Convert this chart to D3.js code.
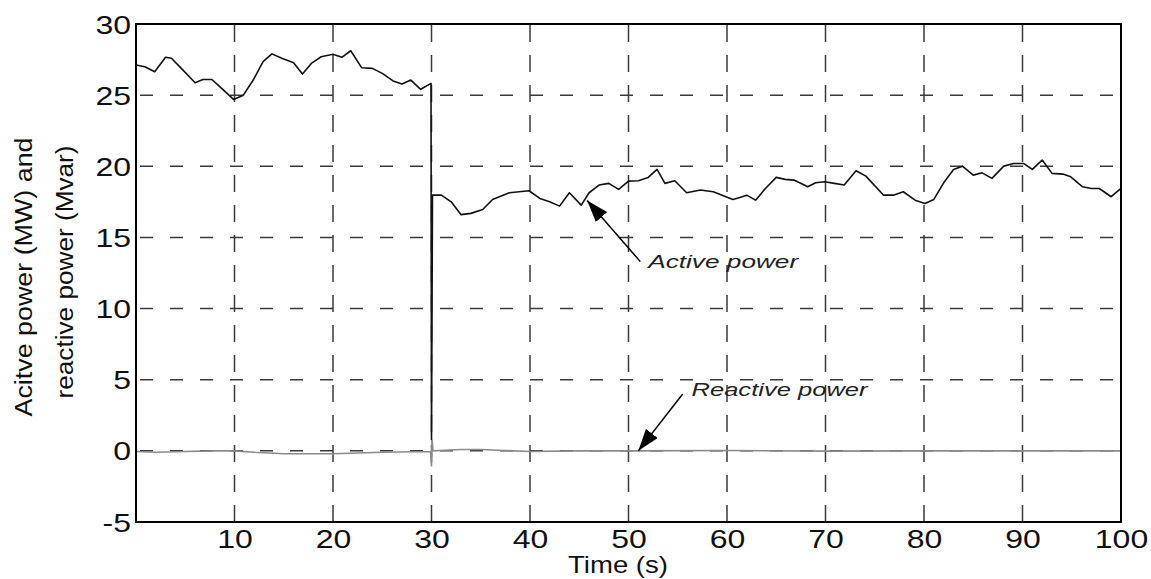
<!DOCTYPE html>
<html>
<head>
<meta charset="utf-8">
<script src="https://cdn.jsdelivr.net/npm/d3@7"></script>
<style>
  html, body { margin: 0; padding: 0; background: #fff; }
  svg { display: block; font-family: "Liberation Sans", Arial, sans-serif; }
</style>
</head>
<body>
<svg id="chart" width="1151" height="579"></svg>
<script>
// active power (MW)
const activeTime = [
  0, 0.9, 1.9, 3.0, 3.6, 4.6, 6.0, 6.8, 7.7, 8.7,
  9.9, 10.9, 11.9, 12.9, 13.8, 14.8, 16.0, 16.9, 17.8, 18.8,
  20.0, 20.9, 21.8, 22.9, 24.0, 25.0, 26.1, 27.0, 27.9, 28.9,
  29.95, 30.0, 30.1, 31.0, 32.0, 33.0, 34.0, 35.2, 36.2, 37.9,
  39.9, 41.0, 42.0, 43.0, 44.0, 45.2, 46.0, 47.0, 48.0, 49.0,
  50.0, 51.0, 52.0, 52.9, 53.7, 54.7, 55.9, 57.3, 58.6, 60.6,
  61.3, 62.0, 62.9, 63.9, 65.0, 65.9, 66.8, 68.2, 69.0, 69.9,
  70.9, 71.9, 73.1, 74.1, 75.9, 76.9, 77.9, 79.1, 80.1, 81.0,
  82.0, 83.0, 83.9, 85.0, 85.9, 86.9, 88.1, 89.1, 90.1, 91.0,
  92.0, 93.0, 94.1, 94.9, 96.1, 97.0, 97.8, 99.0, 100
];
const activePower = [
  27.12, 27.0, 26.65, 27.66, 27.59, 26.88, 25.87, 26.1, 26.1, 25.48,
  24.7, 25.0, 26.06, 27.35, 27.9, 27.59, 27.28, 26.48, 27.23, 27.7,
  27.87, 27.66, 28.12, 26.93, 26.88, 26.53, 26.0, 25.78, 26.06, 25.41,
  25.83, 0.8, 17.97, 17.97, 17.5, 16.6, 16.69, 16.96, 17.67, 18.14,
  18.28, 17.74, 17.5, 17.2, 18.14, 17.27, 18.14, 18.68, 18.8, 18.38,
  18.96, 18.98, 19.22, 19.78, 18.8, 18.98, 18.14, 18.33, 18.21, 17.67,
  17.81, 17.97, 17.62, 18.44, 19.22, 19.08, 19.03, 18.56, 18.84, 18.91,
  18.8, 18.68, 19.69, 19.31, 17.97, 17.97, 18.21, 17.62, 17.39, 17.67,
  18.84, 19.78, 20.01, 19.38, 19.54, 19.15, 20.01, 20.2, 20.2, 19.78,
  20.44, 19.5, 19.45, 19.26, 18.56, 18.44, 18.44, 17.86, 18.44
];

// reactive power (Mvar)
const reactiveTime = [0, 2, 5, 8, 10, 12, 15, 20, 25, 29.9, 30.0, 30.05, 30.15,
  33, 35, 40, 45, 50, 60, 70, 80, 90, 100];
const reactivePower = [-0.05, -0.1, -0.05, 0, 0, -0.1, -0.2, -0.2, -0.1, -0.05, -1.1, 0.8, 0,
  0.1, 0.1, -0.05, 0, 0, 0.02, -0.02, 0, 0, 0];

const xTicks = [10, 20, 30, 40, 50, 60, 70, 80, 90, 100];
const yTicks = [-5, 0, 5, 10, 15, 20, 25, 30];

// annotations: [label, text x, text y, arrow tail x, tail y, tip x, tip y] in data units
const notes = [
  ["Active power", 52.0, 12.84, 51.2, 13.3, 45.8, 17.6],
  ["Reactive power", 56.4, 3.84, 55.5, 4.0, 51.0, 0.0]
];
const noteWidths = [150, 176];

const svg = d3.select("#chart");
const plotLeft = 136, plotRight = 1121, plotTop = 24, plotBottom = 522;

const x = d3.scaleLinear().domain([0, 100]).range([plotLeft, plotRight]);
const y = d3.scaleLinear().domain([-5, 30]).range([plotBottom, plotTop]);

// stretch text horizontally a bit, the figure is wider than tall
const stretch = (sel, k) => {
  sel.each(function () {
    const w = this.getComputedTextLength();
    d3.select(this).attr("textLength", w * k).attr("lengthAdjust", "spacingAndGlyphs");
  });
};

// grid
svg.append("g")
  .selectAll("line")
  .data(yTicks.filter((d) => d > -5 && d < 30))
  .enter()
  .append("line")
  .attr("x1", plotLeft)
  .attr("x2", plotRight)
  .attr("y1", (d) => y(d))
  .attr("y2", (d) => y(d))
  .style("stroke", "#3a3a3a")
  .style("stroke-width", 1.5)
  .style("stroke-dasharray", "13,17")
  .style("stroke-dashoffset", -4);

svg.append("g")
  .selectAll("line")
  .data(xTicks.filter((d) => d < 100))
  .enter()
  .append("line")
  .attr("x1", (d) => x(d))
  .attr("x2", (d) => x(d))
  .attr("y1", plotBottom)
  .attr("y2", plotTop)
  .style("stroke", "#3a3a3a")
  .style("stroke-width", 1.5)
  .style("stroke-dasharray", "17,13");

// series
const reactiveLine = d3.line().x((d, i) => x(reactiveTime[i])).y((d) => y(d));
svg.append("path")
  .datum(reactivePower)
  .attr("d", reactiveLine)
  .style("fill", "none")
  .style("stroke", "#8a8a8a")
  .style("stroke-width", 1.6);

const activeLine = d3.line().x((d, i) => x(activeTime[i])).y((d) => y(d));
svg.append("path")
  .datum(activePower)
  .attr("d", activeLine)
  .style("fill", "none")
  .style("stroke", "#111")
  .style("stroke-width", 1.6)
  .style("stroke-linejoin", "round");

// axes box
svg.append("rect")
  .attr("x", plotLeft)
  .attr("y", plotTop)
  .attr("width", plotRight - plotLeft)
  .attr("height", plotBottom - plotTop)
  .style("fill", "none")
  .style("stroke", "#000")
  .style("stroke-width", 2);

const xAxis = svg.append("g")
  .attr("transform", `translate(0,${plotBottom})`)
  .call(d3.axisBottom(x).tickValues(xTicks).tickSize(0).tickFormat((d) => String(d)));
xAxis.select(".domain").remove();
xAxis.selectAll("text")
  .attr("y", 26)
  .attr("dy", 0)
  .style("font-size", "25px")
  .style("fill", "#111")
  .call(stretch, 1.28);

const yAxis = svg.append("g")
  .attr("transform", `translate(${plotLeft},0)`)
  .call(d3.axisLeft(y).tickValues(yTicks).tickSize(0).tickFormat((d) => String(d)));
yAxis.select(".domain").remove();
yAxis.selectAll("text")
  .attr("x", -5)
  .attr("dy", "0.36em")
  .style("font-size", "25px")
  .style("fill", "#111")
  .call(stretch, 1.28);

// axis titles
svg.append("text")
  .attr("x", 618)
  .attr("y", 573)
  .attr("text-anchor", "middle")
  .style("font-size", "24px")
  .style("fill", "#111")
  .attr("textLength", 100)
  .attr("lengthAdjust", "spacingAndGlyphs")
  .text("Time (s)");

svg.append("text")
  .attr("transform", "translate(32,277) rotate(-90)")
  .attr("text-anchor", "middle")
  .style("font-size", "23px")
  .style("fill", "#111")
  .attr("textLength", 279)
  .attr("lengthAdjust", "spacingAndGlyphs")
  .text("Acitve power (MW) and");

svg.append("text")
  .attr("transform", "translate(73,272) rotate(-90)")
  .attr("text-anchor", "middle")
  .style("font-size", "23px")
  .style("fill", "#111")
  .attr("textLength", 253)
  .attr("lengthAdjust", "spacingAndGlyphs")
  .text("reactive power (Mvar)");

// annotations
svg.append("defs")
  .append("marker")
  .attr("id", "head")
  .attr("viewBox", "0 0 10 10")
  .attr("refX", 10)
  .attr("refY", 5)
  .attr("markerWidth", 22)
  .attr("markerHeight", 15)
  .attr("markerUnits", "userSpaceOnUse")
  .attr("orient", "auto")
  .attr("preserveAspectRatio", "none")
  .append("path")
  .attr("d", "M0,0L10,5L0,10Z")
  .style("fill", "#000");

notes.forEach((n, i) => {
  svg.append("line")
    .attr("x1", x(n[3]))
    .attr("y1", y(n[4]))
    .attr("x2", x(n[5]))
    .attr("y2", y(n[6]))
    .style("stroke", "#000")
    .style("stroke-width", 1.5)
    .attr("marker-end", "url(#head)");

  svg.append("text")
    .attr("x", x(n[1]))
    .attr("y", y(n[2]))
    .style("font-size", "19px")
    .style("font-style", "italic")
    .style("fill", "#222")
    .attr("textLength", noteWidths[i])
    .attr("lengthAdjust", "spacingAndGlyphs")
    .text(n[0]);
});
</script>
</body>
</html>
